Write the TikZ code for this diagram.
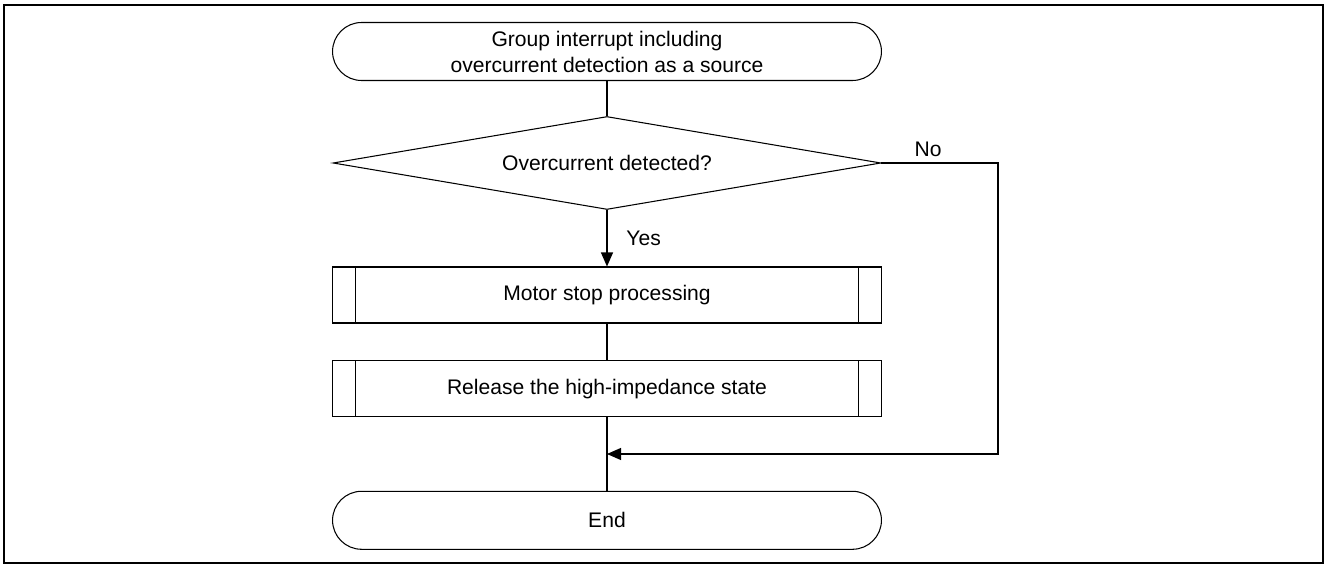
\documentclass[tikz,border=0pt]{standalone}
\usepackage{fontspec}
\setmainfont{Liberation Sans}
\usetikzlibrary{shapes.geometric}
\usetikzlibrary{arrows.meta}

\begin{document}
\begin{tikzpicture}[x=0.02cm, y=-0.02cm, font=\fontsize{12}{14.8}\selectfont]
    \tikzstyle flow=[line width=0.6pt]
    \tikzstyle flowarrow=[flow, -{Triangle[length=0.28cm, width=0.24cm]}]
    \tikzstyle terminal=[draw, line width=0.6pt, rounded corners=0.58cm,
      minimum width=10.98cm, minimum height=1.16cm, inner sep=0pt, align=center]
    \tikzstyle decision=[draw, line width=0.6pt, diamond, aspect=5.9,
      minimum width=10.96cm, minimum height=1.86cm, inner sep=0pt]
    \tikzstyle subproc=[draw, line width=0.6pt, minimum width=11cm,
      minimum height=1.12cm, inner sep=0pt,
      path picture={\draw[flow]
        ([xshift=0.46cm]path picture bounding box.north west) --
        ([xshift=0.46cm]path picture bounding box.south west)
        ([xshift=-0.46cm]path picture bounding box.north east) --
        ([xshift=-0.46cm]path picture bounding box.south east);}]
    \useasboundingbox (0,0) rectangle (1330,567);
    \draw[line width=1.1pt] (4,5) rectangle (1323,563);
    % flow chart
    \node[terminal] (start) at (607,51.5)
    {Group interrupt including\\overcurrent detection as a source};
    \node[decision] (check) at (607,163) {Overcurrent detected?};
    \node[subproc] (stop) at (607,295) {Motor stop processing};
    \node[subproc] (release) at (607,388.7) {Release the high-impedance state};
    \node[terminal] (end) at (607,520.3) {End};
    \coordinate (merge) at (607,454);
    \coordinate (noturn) at (998,163);
    \coordinate (nodown) at (998,454);
    \draw[flow] (start) -- (check);
    \draw[flowarrow] (check) -- (stop) node
    [midway, right=0.26cm] {Yes};
    \draw[flow] (stop) -- (release);
    \draw[flow] (release) -- (end);
    \draw[flowarrow] (check.east) -- node[pos=0.4, above] {No}
    (noturn) -- (nodown) -- (merge);
  \end{tikzpicture}
\end{document}
